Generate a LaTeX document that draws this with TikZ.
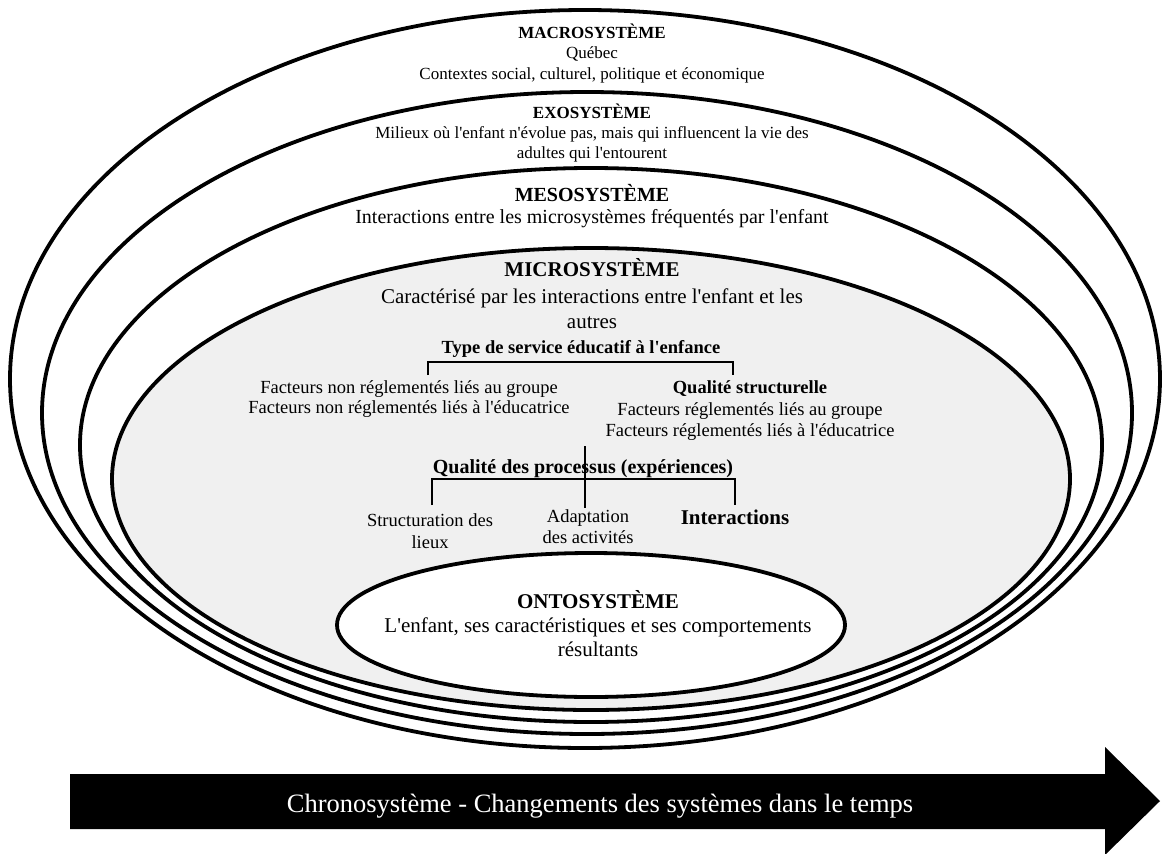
\documentclass[tikz,border=0pt]{standalone}
\usepackage{fontspec}
\setmainfont{Liberation Serif}
\definecolor{microgray}{RGB}{240,240,240}
\newcommand{\ap}{\textquotesingle}
\begin{document}
\begin{tikzpicture}[x=1pt,y=-1pt,
  ring/.style={draw=black,line width=3.8pt},
  br/.style={draw=black,line width=2.3pt},
  txt/.style={inner sep=0pt,anchor=base,text=black},
  fA/.style={font=\fontsize{17}{20}\selectfont},
  fAb/.style={font=\fontsize{17}{20}\selectfont\bfseries},
  fM/.style={font=\fontsize{20}{24}\selectfont},
  fMb/.style={font=\fontsize{20}{24}\selectfont\bfseries},
  fI/.style={font=\fontsize{21}{25}\selectfont},
  fIb/.style={font=\fontsize{21}{25}\selectfont\bfseries},
  fS/.style={font=\fontsize{18.5}{22}\selectfont},
  fSb/.style={font=\fontsize{18.5}{22}\selectfont\bfseries},
]
\useasboundingbox (0,0) rectangle (1162,854);
\fill[white] (0,0) rectangle (1162,854);

% nested systems
\draw[ring,fill=white] (585,379) ellipse [x radius=575, y radius=369];
\draw[ring,fill=white] (587,413) ellipse [x radius=545, y radius=321];
\draw[ring,fill=white] (591,445) ellipse [x radius=511, y radius=277];
\draw[ring,fill=microgray] (591,479) ellipse [x radius=479, y radius=231];
\draw[ring,fill=white] (591,625) ellipse [x radius=254, y radius=72];

% macro
\node[txt,fAb] (macroT) at (592,38) {MACROSYSTÈME};
\node[txt,fA] (macro1) at (592,58) {Québec};
\node[txt,fA] (macro2) at (592,79) {Contextes social, culturel, politique et économique};
% exo
\node[txt,fAb] (exoT) at (592,118) {EXOSYSTÈME};
\node[txt,fA] (exo1) at (592,138) {Milieux où l\ap enfant n\ap évolue pas, mais qui influencent la vie des};
\node[txt,fA] (exo2) at (592,158) {adultes qui l\ap entourent};
% meso
\node[txt,fMb] (mesoT) at (592,201) {MESOSYSTÈME};
\node[txt,fM] (meso1) at (592,223) {Interactions entre les microsystèmes fréquentés par l\ap enfant};
% micro
\node[txt,fIb] (microT) at (592,276) {MICROSYSTÈME};
\node[txt,fI] (micro1) at (592,303) {Caractérisé par les interactions entre l\ap enfant et les};
\node[txt,fI] (micro2) at (592,328) {autres};

\node[txt,fSb] (service) at (581,353) {Type de service éducatif à l\ap enfance};
\node[txt,fS] (nonreg1) at (409,393) {Facteurs non réglementés liés au groupe};
\node[txt,fS] (nonreg2) at (409,413) {Facteurs non réglementés liés à l\ap éducatrice};
\node[txt,fSb] (structT) at (750,393) {Qualité structurelle};
\node[txt,fS] (struct1) at (750,415) {Facteurs réglementés liés au groupe};
\node[txt,fS] (struct2) at (750,436) {Facteurs réglementés liés à l\ap éducatrice};

\node[txt,fMb] (process) at (583,473) {Qualité des processus (expériences)};
\node[txt,fS] (lieux1) at (430,526) {Structuration des};
\node[txt,fS] (lieux2) at (430,548) {lieux};
\node[txt,fS] (adapt1) at (588,522) {Adaptation};
\node[txt,fS] (adapt2) at (588,543) {des activités};
\node[txt,fIb] (inter) at (735,524) {Interactions};

% brackets
\coordinate (svcL) at (428,375);
\coordinate (svcR) at (733,375);
\draw[br] (svcL) -- ++(0,-13) -| (svcR);
\coordinate (vTop) at (585,446);
\coordinate (vBot) at (585,508);
\draw[br] (vTop) -- (vBot);
\coordinate (prL) at (432,505);
\coordinate (prR) at (735,505);
\draw[br] (prL) -- ++(0,-26) -| (prR);

% onto
\node[txt,fIb] (ontoT) at (598,608) {ONTOSYSTÈME};
\node[txt,fI] (onto1) at (598,632) {L\ap enfant, ses caractéristiques et ses comportements};
\node[txt,fI] (onto2) at (598,656) {résultants};

% chronosystem arrow
\fill[black] (70,774) -- (1105,774) -- (1105,747) -- (1160,801) -- (1105,855)
  -- (1105,829) -- (70,829) -- cycle;
\node[txt,text=white,font=\fontsize{26.5}{30}\selectfont] (chrono) at (600,812)
  {Chronosystème - Changements des systèmes dans le temps};
\end{tikzpicture}
\end{document}
